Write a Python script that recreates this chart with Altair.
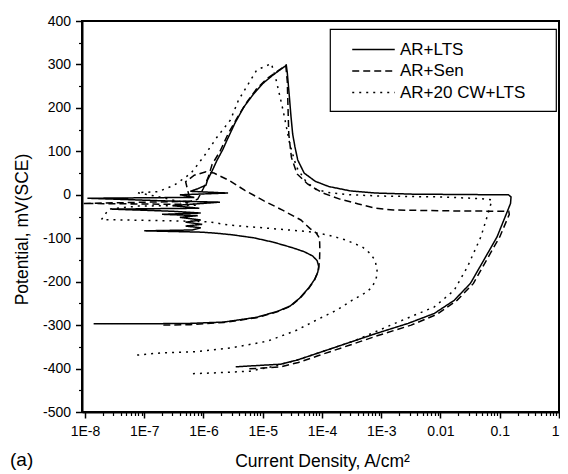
import altair as alt
import pandas as pd

SERIES = ["AR+LTS", "AR+Sen", "AR+20 CW+LTS"]

# ---- AR+LTS (solid) : current density (A/cm2), potential (mV SCE), in scan order
lts_i = [1.4e-8, 1e-7, 6e-7, 2.2e-6, 7.9e-6, 1.8e-5, 2.9e-5, 4.2e-5, 6.0e-5, 7.5e-5, 8.5e-5, 8.8e-5, 8.3e-5,
         7.0e-5, 5.0e-5, 3.2e-5, 1.5e-5, 7e-6, 3e-6, 1.5e-6, 9e-7,
         1.0e-7, 6.5e-7, 9e-7, 5e-7, 9.5e-7, 5e-7, 9e-7, 4e-7, 8e-7, 2e-7, 9e-7, 3e-7, 2.8e-8, 8.5e-7, 3e-7,
         1.9e-6, 2.2e-7, 1.1e-8, 7e-7, 4e-7, 2.6e-6, 6e-7, 8e-7, 1.1e-6,
         1.17e-6, 1.4e-6, 1.7e-6, 2.1e-6, 2.5e-6, 3.4e-6, 4.8e-6, 7e-6, 1.0e-5, 1.5e-5, 2.5e-5,
         2.6e-5, 2.8e-5, 3.0e-5, 3.2e-5, 3.5e-5, 3.9e-5, 5e-5, 7.7e-5, 1.3e-4, 3e-4, 8e-4, 3.3e-3, 0.026, 0.14, 0.155,
         0.152, 0.13, 0.09, 0.054, 0.032, 0.017, 7.9e-3, 2.85e-3, 7.9e-4, 2.5e-4, 7.9e-5, 3.7e-5, 2e-5, 6.1e-6, 3.5e-6]
lts_e = [-297, -297, -296, -293, -282, -268, -256, -238, -214, -195, -178, -165, -152,
         -141, -131, -122, -109, -99, -92, -88, -86,
         -83, -81, -76, -72, -68, -63, -58, -52, -48, -45, -42, -38, -33, -31, -25,
         -17, -14, -8, -6, 0, 4, 8, 14, 22,
         34, 55, 80, 103, 126, 165, 202, 232, 256, 276, 298,
         280, 230, 180, 140, 110, 80, 50, 31, 19, 9, 4, 1.5, 0.5, 0, -5,
         -20, -43, -97, -150, -204, -243, -273, -296, -320, -343, -366, -381, -390, -394, -396]

# ---- AR+Sen (dashed)
sen_i = [2.1e-7, 6e-7, 2.2e-6, 7.9e-6, 1.8e-5, 2.9e-5, 4.2e-5, 6e-5, 7.5e-5, 8.7e-5, 9.1e-5, 9.2e-5, 9.1e-5,
         8e-5, 6.3e-5, 4.4e-5, 2.2e-5, 1.05e-5, 5e-6, 2.8e-6, 1.5e-6, 1.1e-6,
         7e-7, 5e-7, 6e-7, 9.3e-9, 4e-7, 8e-7, 1.0e-6, 1.2e-6,
         1.4e-6, 1.9e-6, 2.6e-6, 3.8e-6, 5.5e-6, 8e-6, 1.2e-5, 1.8e-5, 2.45e-5,
         2.6e-5, 2.65e-5, 2.75e-5, 3.05e-5, 3.8e-5, 5.7e-5, 1e-4, 2e-4, 4.1e-4, 8.1e-4, 1.6e-3, 0.013, 0.142,
         0.145, 0.1, 0.06, 0.036, 0.019, 8.8e-3, 3.2e-3, 8.8e-4, 2.8e-4, 8.8e-5, 4e-5, 2e-5, 1e-5, 5.3e-6]
sen_e = [-300, -299, -294, -283, -269, -257, -239, -215, -196, -175, -150, -125, -100,
         -88, -78, -58, -36, -14, 10, 32, 50, 53,
         45, 30, -15, -20, -22, -10, 15, 40,
         70, 100, 140, 180, 215, 245, 268, 285, 298,
         260, 217, 140, 86, 48, 25, 5, -10, -21, -31, -35, -37, -38,
         -45, -97, -150, -204, -243, -275, -300, -324, -347, -370, -386, -396, -399, -401]

# ---- AR+20 CW+LTS (dotted)
cw_i = [7.6e-8, 1.9e-7, 7.6e-7, 3.05e-6, 1.2e-5, 3.7e-5, 7.9e-5, 1.8e-4, 3.2e-4, 5.5e-4, 7.1e-4, 8.3e-4, 8.5e-4,
        7.9e-4, 6.5e-4, 4.8e-4, 2.5e-4, 1.3e-4, 6.1e-5, 1.5e-5, 2.85e-6, 1.17e-6, 3e-7, 1.9e-8,
        2.2e-8, 2.5e-8, 8e-8, 8e-7, 3e-7, 1.8e-7, 7.6e-8,
        1.7e-7, 3.2e-7, 6.1e-7, 1.0e-6, 1.7e-6, 2.85e-6, 3.9e-6, 7.9e-6, 1.4e-5,
        1.7e-5, 2.2e-5, 2.85e-5, 3.7e-5, 5.4e-5, 8e-5, 1.3e-4, 3e-4, 1e-3, 0.01, 0.05, 0.074,
        0.061, 0.048, 0.0285, 0.017, 7.9e-3, 1.7e-3, 3.7e-4, 7.9e-5, 3.7e-5, 1.5e-5, 6.1e-6, 1.5e-6, 5.7e-7]
cw_e = [-369, -364, -361, -352, -337, -312, -289, -265, -243, -225, -212, -190, -174,
        -151, -135, -120, -104, -93, -85, -78, -70, -62, -60, -57,
        -45, -33, -26, -24, -12, -5, 5,
        7, 22, 49, 87, 133, 172, 218, 287, 302,
        262, 195, 118, 64, 30, 12, 5, 0, -3, -5, -9, -12,
        -51, -97, -166, -220, -258, -296, -335, -366, -381, -395, -406, -410, -412]

X_MAJOR = [1e-8, 1e-7, 1e-6, 1e-5, 1e-4, 1e-3, 0.01, 0.1, 1]
X_MINOR = [m * d for d in X_MAJOR[:-1] for m in range(2, 10)]
Y_MAJOR = [-500, -400, -300, -200, -100, 0, 100, 200, 300, 400]
Y_MINOR = [-450, -350, -250, -150, -50, 50, 150, 250, 350]

rows = []
for name, xs, ys in [(SERIES[0], lts_i, lts_e), (SERIES[1], sen_i, sen_e), (SERIES[2], cw_i, cw_e)]:
    assert len(xs) == len(ys), name
    for k, (a, b) in enumerate(zip(xs, ys)):
        rows.append({"series": name, "k": k, "i": a, "e": b})
df = pd.DataFrame(rows)

FONT = "Liberation Sans"
xscale = alt.Scale(type="log", domain=[8.91e-9, 1], nice=False)
yscale = alt.Scale(domain=[-500, 400], nice=False, zero=False)

lines = alt.Chart(df).mark_line(strokeWidth=1.5, color="black", clip=True, strokeCap="butt").encode(
    x=alt.X("i:Q", scale=xscale, axis=alt.Axis(
        orient="bottom", values=X_MAJOR,
        labelExpr="datum.value < 0.005 ? '1E' + round(log(datum.value)/LN10) : '' + datum.value",
        title="Current Density, A/cm²", tickSize=6, tickWidth=1.5, labelPadding=6,
        titleX=240, titleY=54, titleBaseline="alphabetic", titleAlign="center")),
    y=alt.Y("e:Q", scale=yscale, axis=alt.Axis(
        orient="left", values=Y_MAJOR, labelExpr="'' + datum.value",
        title="Potential, mV(SCE)", tickSize=6.5, tickWidth=1.5, labelPadding=5,
        titleAngle=270, titleX=-60, titleY=208, titleAlign="center", titleBaseline="middle")),
    strokeDash=alt.StrokeDash("series:N",
        scale=alt.Scale(domain=SERIES, range=[[1, 0], [7, 4], [2, 5]]),
        legend=alt.Legend(title=None, orient="none", legendX=248, legendY=8,
                          symbolType="M-2.3,0H2.3M18.2,0", symbolSize=342, symbolStrokeWidth=1.5,
                          symbolStrokeColor="black", symbolFillColor="transparent",
                          symbolOffset=23, labelOffset=16.5, labelFont=FONT, labelFontSize=17,
                          labelColor="black", padding=10.5, strokeColor="black", fillColor="white",
                          rowPadding=3.5)),
    detail="series:N",
    order="k:Q",
)

minor = alt.Chart(df).mark_point(opacity=0).encode(
    x=alt.X("i:Q", scale=xscale, axis=alt.Axis(orient="bottom", values=X_MINOR, labels=False, tickSize=3.5,
                                 tickWidth=1.2, domain=False, grid=False, title=None)),
    y=alt.Y("e:Q", scale=yscale, axis=alt.Axis(orient="left", values=Y_MINOR, labels=False, tickSize=3.5,
                                 tickWidth=1.2, domain=False, grid=False, title=None)),
)

panel = alt.Chart(pd.DataFrame({"t": ["(a)"]})).mark_text(
    font=FONT, fontSize=19, align="left", baseline="alphabetic", color="black"
).encode(x=alt.value(-72), y=alt.value(445), text="t:N")

chart = alt.layer(lines, minor, panel).resolve_axis(x="independent", y="independent").properties(
    width=477, height=391,
    autosize=alt.AutoSizeParams(type="none"),
    padding={"left": 74, "top": 13, "right": 1, "bottom": 62},
).configure_view(stroke="black", strokeWidth=2).configure_axis(
    labelFont=FONT, labelFontSize=14, labelColor="black",
    titleFont=FONT, titleFontSize=17.5, titleFontWeight="normal", titleColor="black",
    domainColor="black", tickColor="black", grid=False, domainWidth=2,
).configure_legend(strokeWidth=1.2)

chart.save("out.html", embed_options={"renderer": "svg", "actions": False})
